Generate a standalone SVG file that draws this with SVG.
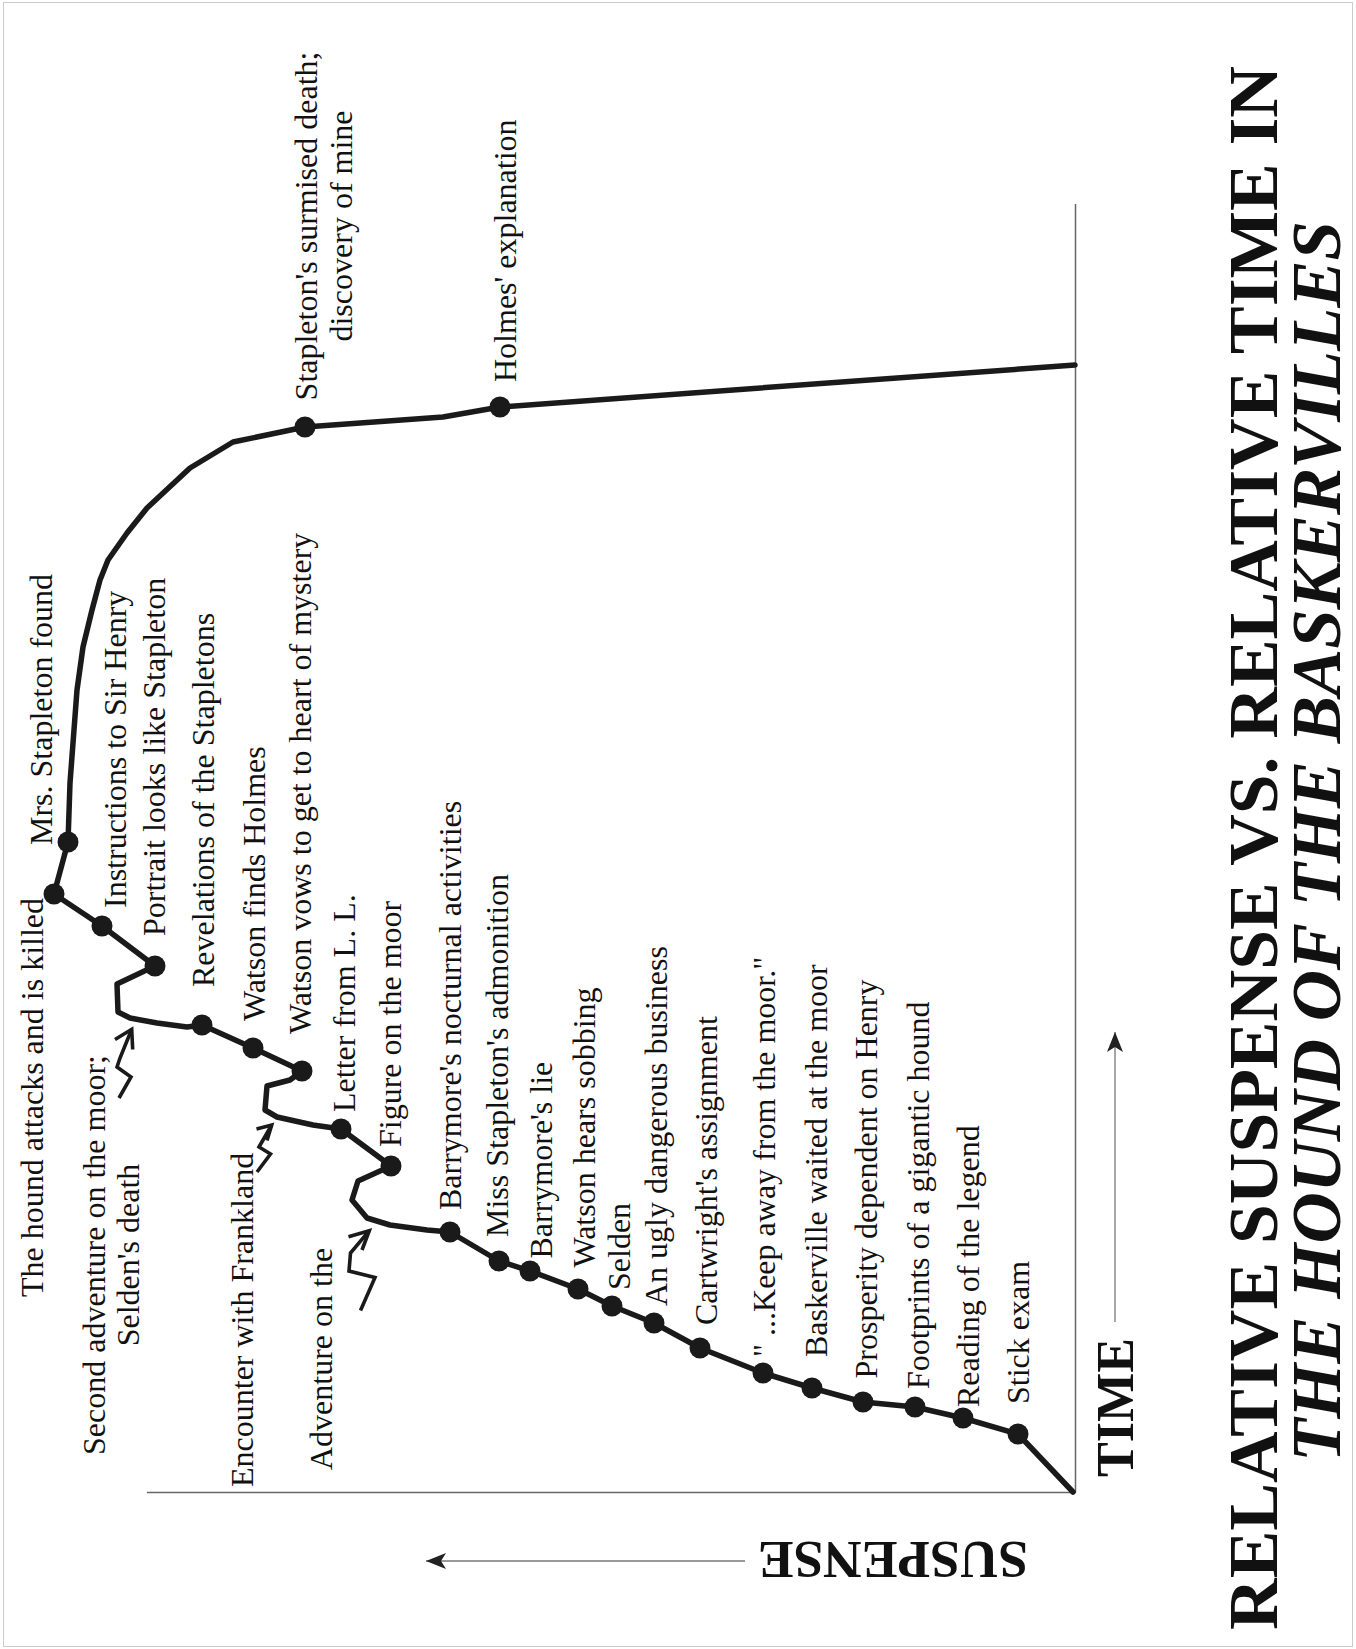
<svg xmlns="http://www.w3.org/2000/svg" width="1356" height="1649" viewBox="0 0 1356 1649">
<defs>
<style>
.lbl{font-family:"Liberation Serif","Times New Roman",serif;font-size:32px;fill:#111}
.dot{fill:#1a1a1a}
.ttl{font-family:"Liberation Serif","Times New Roman",serif;font-weight:bold;fill:#111}
.sq{fill:none;stroke:#1a1a1a;stroke-width:3.6;stroke-linejoin:miter;stroke-linecap:butt}
.ax{stroke:#666;stroke-width:1.5;fill:none}
.ar{stroke:#777;stroke-width:1.3;fill:none}
</style>
<marker id="ah" viewBox="0 0 20 16" refX="20" refY="8" markerWidth="20" markerHeight="16" markerUnits="userSpaceOnUse" orient="auto">
<path d="M0,0 L20,8 L0,16 L5,8 Z" fill="#222"/>
</marker>
</defs>
<rect x="0" y="0" width="1356" height="1649" fill="#fff"/>
<rect x="3.5" y="2.5" width="1349" height="1644" fill="none" stroke="#999" stroke-width="1" stroke-dasharray="1 1"/>

<g id="axes">
<line class="ax" x1="147" y1="1492.5" x2="1075.5" y2="1492.5" stroke="#888"/>
<line class="ax" x1="1075.5" y1="204" x2="1075.5" y2="1492.5"/>
<line class="ar" x1="1115" y1="1322" x2="1115" y2="1032" marker-end="url(#ah)"/>
<line class="ar" x1="745" y1="1561" x2="426" y2="1561" marker-end="url(#ah)"/>
<text class="ttl" font-size="53" transform="translate(1133,1477) rotate(-90)" textLength="139" lengthAdjust="spacingAndGlyphs">TIME</text>
<text class="ttl" font-size="53" transform="translate(1028,1542) rotate(180)" textLength="270" lengthAdjust="spacingAndGlyphs">SUSPENSE</text>
</g>

<g id="title">
<text class="ttl" font-size="70" transform="translate(1277,1630) rotate(-90)" textLength="1564" lengthAdjust="spacingAndGlyphs">RELATIVE SUSPENSE VS. RELATIVE TIME IN</text>
<text class="ttl" font-size="69" font-style="italic" transform="translate(1340,1462) rotate(-90)" textLength="1241" lengthAdjust="spacingAndGlyphs">THE HOUND OF THE BASKERVILLES</text>
</g>

<g id="connectors">
<path d="M1073,1492 L1018,1434 L963,1418 L915,1407 L863,1402 L812,1388 L763,1373 L700,1348 L654,1323 L612,1306 L578,1289 L530,1271 L499,1261 L450,1232 L427,1230 L390,1225 L367,1218 L352,1200 L358,1181 L391,1166 L341,1129 L313,1125 L277,1117 L265,1110 L267,1086 L290,1080 L302,1071 L253,1048 L202,1025 L187,1027 L157,1023 L130,1018 L118,1012 L117,984 L155,966 L102,926 L54,894 L68,842 L70,783 L77,690 L83,647 L92,610 L100,580 L108,560 L127,533 L147,508 L190,468 L233,442 L305,427 L443,417 L500,407 L1075,365" fill="none" stroke="#1a1a1a" stroke-width="5.5" stroke-linejoin="round" stroke-linecap="round"/>
<g id="squiggle1"><polyline class="sq" points="119,1098 131,1077 117,1067 120,1058 131.7,1029.3"/><polyline class="sq" points="115,1039.5 131.7,1029.3 132.7,1049.5"/></g>
<g id="squiggle2"><polyline class="sq" points="257,1172 270.5,1154 259,1147 271.7,1125"/><polyline class="sq" points="256.5,1129 271.7,1125 267,1140.5"/></g>
<g id="squiggle3"><polyline class="sq" points="360.5,1310.5 375,1277.5 349,1271 350.5,1253 369.3,1230.7"/><polyline class="sq" points="348.5,1236.7 369.3,1230.7 362,1250"/></g>
</g>

<g id="n-stick"><circle class="dot" cx="1018" cy="1434" r="10.5"/><text class="lbl" transform="translate(1028.5,1404) rotate(-90)">Stick exam</text></g>
<g id="n-legend"><circle class="dot" cx="963" cy="1418" r="10.5"/><text class="lbl" transform="translate(978.5,1407) rotate(-90)">Reading of the legend</text></g>
<g id="n-footprints"><circle class="dot" cx="915" cy="1407" r="10.5"/><text class="lbl" transform="translate(928.5,1389) rotate(-90)">Footprints of a gigantic hound</text></g>
<g id="n-prosperity"><circle class="dot" cx="863" cy="1402" r="10.5"/><text class="lbl" transform="translate(876.5,1378.5) rotate(-90)">Prosperity dependent on Henry</text></g>
<g id="n-waited"><circle class="dot" cx="812" cy="1388" r="10.5"/><text class="lbl" transform="translate(826.5,1357) rotate(-90)">Baskerville waited at the moor</text></g>
<g id="n-keepaway"><circle class="dot" cx="763" cy="1373" r="10.5"/><text class="lbl" transform="translate(775,1357) rotate(-90)">" ...Keep away from the moor."</text></g>
<g id="n-cartwright"><circle class="dot" cx="700" cy="1348" r="10.5"/><text class="lbl" transform="translate(716.5,1325) rotate(-90)">Cartwright's assignment</text></g>
<g id="n-ugly"><circle class="dot" cx="654" cy="1323" r="10.5"/><text class="lbl" transform="translate(666.5,1306) rotate(-90)">An ugly dangerous business</text></g>
<g id="n-selden"><circle class="dot" cx="612" cy="1306" r="10.5"/><text class="lbl" transform="translate(629.5,1290) rotate(-90)">Selden</text></g>
<g id="n-sobbing"><circle class="dot" cx="578" cy="1289" r="10.5"/><text class="lbl" transform="translate(594.5,1267.5) rotate(-90)">Watson hears sobbing</text></g>
<g id="n-lie"><circle class="dot" cx="530" cy="1271" r="10.5"/><text class="lbl" transform="translate(551.5,1258.5) rotate(-90)">Barrymore's lie</text></g>
<g id="n-admonition"><circle class="dot" cx="499" cy="1261" r="10.5"/><text class="lbl" transform="translate(508,1237) rotate(-90)">Miss Stapleton's admonition</text></g>
<g id="n-nocturnal"><circle class="dot" cx="450" cy="1232" r="10.5"/><text class="lbl" transform="translate(461,1210) rotate(-90)">Barrymore's nocturnal activities</text></g>
<g id="n-adventure"><text class="lbl" transform="translate(331.5,1470) rotate(-90)">Adventure on the</text></g>
<g id="n-figure"><circle class="dot" cx="391" cy="1166" r="10.5"/><text class="lbl" transform="translate(401,1147) rotate(-90)">Figure on the moor</text></g>
<g id="n-letter"><circle class="dot" cx="341" cy="1129" r="10.5"/><text class="lbl" transform="translate(354.5,1112) rotate(-90)">Letter from L. L.</text></g>
<g id="n-frankland"><text class="lbl" transform="translate(253,1487) rotate(-90)">Encounter with Frankland</text></g>
<g id="n-vows"><circle class="dot" cx="302" cy="1071" r="10.5"/><text class="lbl" transform="translate(311,1034) rotate(-90)">Watson vows to get to heart of mystery</text></g>
<g id="n-finds"><circle class="dot" cx="253" cy="1048" r="10.5"/><text class="lbl" transform="translate(264.5,1021) rotate(-90)">Watson finds Holmes</text></g>
<g id="n-revelations"><circle class="dot" cx="202" cy="1025" r="10.5"/><text class="lbl" transform="translate(214,987) rotate(-90)">Revelations of the Stapletons</text></g>
<g id="n-second"><text class="lbl" text-anchor="middle" transform="translate(104.5,1255) rotate(-90)">Second adventure on the moor;</text><text class="lbl" text-anchor="middle" transform="translate(138.5,1255) rotate(-90)">Selden's death</text></g>
<g id="n-portrait"><circle class="dot" cx="155" cy="966" r="10.5"/><text class="lbl" transform="translate(164.5,936) rotate(-90)">Portrait looks like Stapleton</text></g>
<g id="n-instructions"><circle class="dot" cx="102" cy="926" r="10.5"/><text class="lbl" transform="translate(126,908) rotate(-90)">Instructions to Sir Henry</text></g>
<g id="n-hound"><circle class="dot" cx="54" cy="894" r="10.5"/><text class="lbl" transform="translate(42.5,1297) rotate(-90)">The hound attacks and is killed</text></g>
<g id="n-mrs"><circle class="dot" cx="68" cy="842" r="10.5"/><text class="lbl" transform="translate(52,845) rotate(-90)">Mrs. Stapleton found</text></g>
<g id="n-surmised"><circle class="dot" cx="305" cy="427" r="10.5"/><text class="lbl" text-anchor="middle" transform="translate(317,226) rotate(-90)">Stapleton's surmised death;</text><text class="lbl" text-anchor="middle" transform="translate(352,226) rotate(-90)">discovery of mine</text></g>
<g id="n-explanation"><circle class="dot" cx="500" cy="407" r="10.5"/><text class="lbl" transform="translate(516,382) rotate(-90)">Holmes' explanation</text></g>
</svg>
